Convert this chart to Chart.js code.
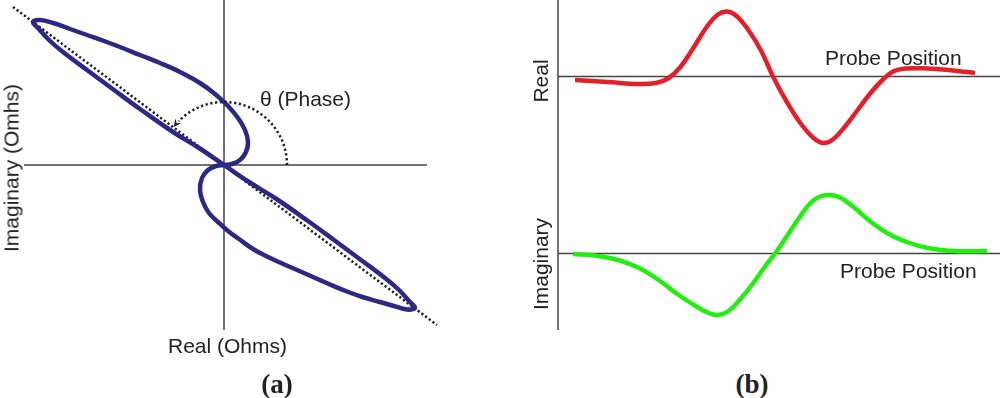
<!DOCTYPE html>
<html>
<head>
<meta charset="utf-8">
<script src="https://cdn.jsdelivr.net/npm/chart.js@4/dist/chart.umd.min.js"></script>
<style>
  html, body { margin: 0; padding: 0; background: #fff; }
  body { width: 1000px; height: 398px; position: relative; overflow: hidden; font-family: "Liberation Sans", Arial, sans-serif; color: #222; }
  canvas { position: absolute; }
  #cA { left: 0; top: 0; }
  #cB { left: 520px; top: 0; }
  .t { position: absolute; font-size: 21px; line-height: 21px; white-space: nowrap; }
  .r { transform: translate(-50%, -50%) rotate(-90deg); }
  .lab { position: absolute; font-family: "Liberation Serif", "Times New Roman", serif; font-weight: bold; font-size: 27px; line-height: 27px; transform: translate(-50%, -50%); }
</style>
</head>
<body>
<canvas id="cA" width="450" height="340" style="width:450px;height:340px"></canvas>
<canvas id="cB" width="480" height="340" style="width:480px;height:340px"></canvas>

<div class="t" style="left:260px;top:88px">θ (Phase)</div>
<div class="t" style="left:168px;top:335px">Real (Ohms)</div>
<div class="t r" style="left:10.7px;top:168px">Imaginary (Omhs)</div>
<div class="lab" style="left:277px;top:384px">(a)</div>

<div class="t" style="left:825px;top:47px">Probe Position</div>
<div class="t" style="left:840px;top:260px">Probe Position</div>
<div class="t r" style="left:539.7px;top:81px">Real</div>
<div class="t r" style="left:539.7px;top:263.5px">Imaginary</div>
<div class="lab" style="left:752px;top:384px">(b)</div>

<script>
// ---------- Panel (a): impedance-plane figure-eight (Real, Imaginary), closed path ----------
const loopX = [0, 25, 51, 84, 110, 137, 161, 175, 186, 191, 183, 170, 156, 140, 123, 106, 89, 72, 56, 42, 29, 15, 4, -6, -15, -21, -24, -22, -16, -8,
               0, 8, 16, 22, 24, 21, 14, 4, -9, -24, -44, -64, -84, -104, -120, -137, -154, -171, -184, -191, -186, -175, -161, -137, -110, -84, -51, -25, 0];
const loopY = [0, -17, -33, -56, -75, -95, -113, -125, -137, -143, -144.5, -141, -137, -132.5, -126.5, -119.5, -112, -104.5, -97.5, -91, -84, -74, -66, -57, -48, -37, -25, -13, -5, -1,
               0, 1, 5, 13, 23, 35, 47, 59, 71, 82, 93, 102, 110, 118, 124, 130, 136, 142, 145, 143, 137, 125, 113, 95, 75, 56, 33, 17, 0];
const phaseLineX = [-211, 213];
const phaseLineY = [158, -160];
const axisAX = [-200, 203];
const axisAY = [165, -165];
const phaseArcRadius = 63;
const phaseAngleDeg = 143;

// ---------- Panel (b): signals vs probe position ----------
const realX = [17, 50, 80, 98, 110, 122, 135, 149, 160, 169, 178, 190, 203, 215, 228, 242, 255, 265, 275, 287, 300, 313, 325, 335, 347, 369, 395, 417];
const realY = [-3.5, -5.5, -7.5, -6.5, -2, 9, 28, 50, 62, 65, 61, 47, 26, 0, -24, -46, -61, -66.5, -63, -50, -33, -16, -3, 5, 8, 8, 6, 3.5];
const imagX = [15, 40, 60, 80, 100, 120, 140, 152, 160, 170, 182, 195, 207, 217, 228, 240, 252, 262, 272, 282, 295, 310, 330, 350, 370, 395, 429];
const imagY = [-0.5, -2.5, -6.5, -14, -26, -41, -54, -60, -61.5, -58, -46, -30, -13, 0, 16, 34, 50, 57, 58.5, 56, 47, 34, 20, 11, 5.5, 2.5, 2.5];
const axisBX = [0, 442];
const axisBVert = [76.5, -253.5];

const pts = (xs, ys) => xs.map((x, i) => ({ x: x, y: ys[i] }));
const NAVY = '#2d2882', RED = '#e3202a', GREEN = '#22ee10', AXIS = '#444444', DOT = '#1e1e1e';

const common = {
  responsive: false,
  animation: false,
  devicePixelRatio: 1,
  layout: { padding: 0 },
  plugins: { legend: { display: false }, tooltip: { enabled: false } },
  elements: { point: { radius: 0, hoverRadius: 0 } },
  events: []
};

const arcPlugin = {
  id: 'phaseArc',
  afterDatasetsDraw(chart) {
    const xs = chart.scales.x, ys = chart.scales.y, ctx = chart.ctx;
    const cx = xs.getPixelForValue(0), cy = ys.getPixelForValue(0);
    const r = xs.getPixelForValue(phaseArcRadius) - cx;
    const th = phaseAngleDeg * Math.PI / 180;
    ctx.save();
    ctx.strokeStyle = DOT;
    ctx.lineWidth = 2.5;
    ctx.setLineDash([2.2, 2.6]);
    ctx.beginPath();
    ctx.arc(cx, cy, r, 0, -(th - 0.12), true);
    ctx.stroke();
    const tx = cx + r * Math.cos(th), ty = cy - r * Math.sin(th);
    const dx = -Math.sin(th), dy = -Math.cos(th);
    const px = -dy, py = dx;
    const L = 8, W = 3.8;
    ctx.setLineDash([]);
    ctx.fillStyle = DOT;
    ctx.beginPath();
    ctx.moveTo(tx, ty);
    ctx.lineTo(tx - dx * L + px * W, ty - dy * L + py * W);
    ctx.lineTo(tx - dx * L * 0.6, ty - dy * L * 0.6);
    ctx.lineTo(tx - dx * L - px * W, ty - dy * L - py * W);
    ctx.closePath();
    ctx.fill();
    ctx.restore();
  }
};

new Chart(document.getElementById('cA'), {
  type: 'scatter',
  data: {
    datasets: [
      { data: pts(loopX, loopY), showLine: true, borderColor: NAVY, borderWidth: 4.5, tension: 0.4, borderJoinStyle: 'round', order: 1, clip: false },
      { data: pts(phaseLineX, phaseLineY), showLine: true, borderColor: DOT, borderWidth: 2.5, borderDash: [2.2, 2.4], order: 2, clip: false },
      { data: pts(axisAX, [0, 0]), showLine: true, borderColor: AXIS, borderWidth: 1.5, order: 3, clip: false },
      { data: pts([0, 0], axisAY), showLine: true, borderColor: AXIS, borderWidth: 1.5, order: 3, clip: false }
    ]
  },
  options: Object.assign({}, common, {
    scales: {
      x: { type: 'linear', display: false, min: -224, max: 226 },
      y: { type: 'linear', display: false, min: -175, max: 165 }
    }
  }),
  plugins: [arcPlugin]
});

new Chart(document.getElementById('cB'), {
  type: 'scatter',
  data: {
    datasets: [
      { data: pts(realX, realY), yAxisID: 'yR', showLine: true, borderColor: RED, borderWidth: 4.5, tension: 0.4, borderCapStyle: 'butt', order: 1, clip: false },
      { data: pts(imagX, imagY), yAxisID: 'yI', showLine: true, borderColor: GREEN, borderWidth: 4.5, tension: 0.4, borderCapStyle: 'butt', order: 1, clip: false },
      { data: pts(axisBX, [0, 0]), yAxisID: 'yR', showLine: true, borderColor: AXIS, borderWidth: 1.5, order: 3, clip: false },
      { data: pts(axisBX, [0, 0]), yAxisID: 'yI', showLine: true, borderColor: AXIS, borderWidth: 1.5, order: 3, clip: false },
      { data: pts([0, 0], axisBVert), yAxisID: 'yR', showLine: true, borderColor: AXIS, borderWidth: 1.5, order: 3, clip: false }
    ]
  },
  options: Object.assign({}, common, {
    scales: {
      x: { type: 'linear', display: false, min: -38, max: 442 },
      yR: { type: 'linear', display: false, min: -263.5, max: 76.5 },
      yI: { type: 'linear', display: false, min: -86.5, max: 253.5 }
    }
  })
});
</script>
</body>
</html>
